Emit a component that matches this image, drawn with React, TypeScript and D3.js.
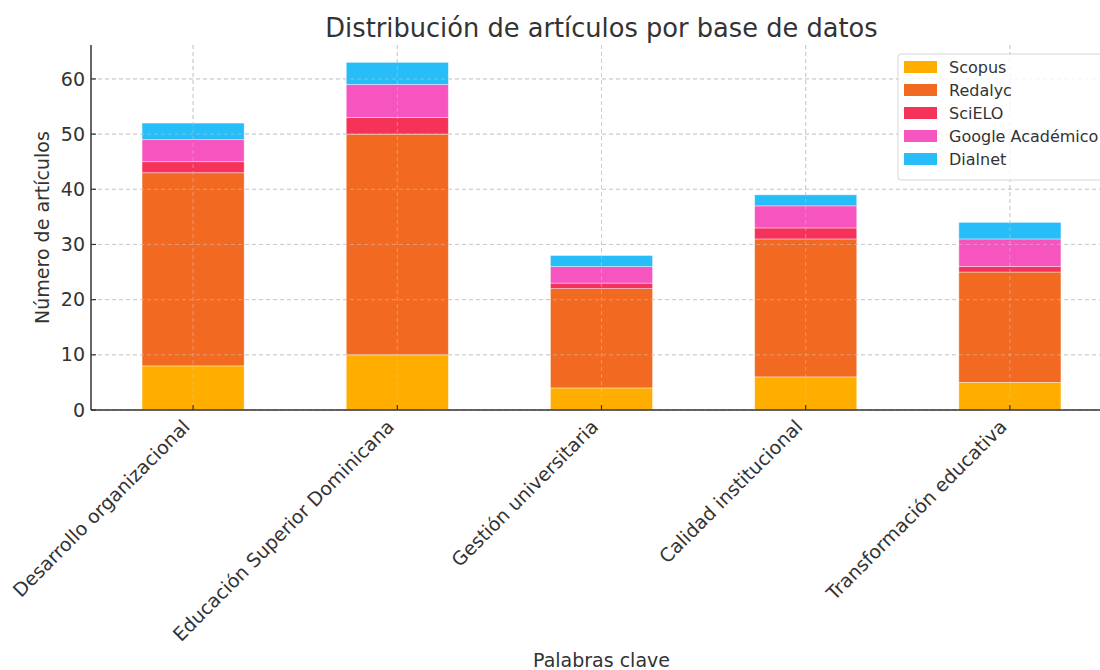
import React from "react";
import * as d3 from "d3";

const categories = [
  "Desarrollo organizacional",
  "Educación Superior Dominicana",
  "Gestión universitaria",
  "Calidad institucional",
  "Transformación educativa",
];
const seriesNames = ["Scopus", "Redalyc", "SciELO", "Google Académico", "Dialnet"];
const scopus = [8, 10, 4, 6, 5];
const redalyc = [35, 40, 18, 25, 20];
const scielo = [2, 3, 1, 2, 1];
const google = [4, 6, 3, 4, 5];
const dialnet = [3, 4, 2, 2, 3];
const colors = ["#ffae00", "#f26a22", "#f5325a", "#f655bf", "#27bdf8"];
const yTicks = [0, 10, 20, 30, 40, 50, 60];

const W = 1100;
const H = 670;
const M = { left: 91, right: 1112, top: 45, bottom: 410 };
const TXT = "#333333";
const FONT = "DejaVu Sans, sans-serif";

export default function App() {
  const seriesValues = [scopus, redalyc, scielo, google, dialnet];
  const rows = categories.map((c, i) => {
    const r: any = { cat: c };
    seriesNames.forEach((s, j) => (r[s] = seriesValues[j][i]));
    return r;
  });
  const stacked = d3.stack<any>().keys(seriesNames)(rows);
  const maxTotal = d3.max(rows, (r: any) => d3.sum(seriesNames, (s) => r[s])) as number;

  const x = d3.scaleLinear().domain([-0.5, categories.length - 0.5]).range([M.left, M.right]);
  const y = d3.scaleLinear().domain([0, maxTotal * 1.05]).range([M.bottom, M.top]);
  const bw = (x(1) - x(0)) * 0.5;

  return (
    <svg width={W} height={H} style={{ position: "absolute", left: 0, top: 0 }} fontFamily={FONT}>
      <rect x={0} y={0} width={W} height={H} fill="#ffffff" />
      {/* grid */}
      {yTicks.map((t) => (
        <line key={"gy" + t} x1={M.left} x2={M.right} y1={y(t)} y2={y(t)} stroke="#cccccc" strokeWidth={1} strokeDasharray="4,3" />
      ))}
      {categories.map((c, i) => (
        <line key={"gx" + i} x1={x(i)} x2={x(i)} y1={M.top} y2={M.bottom} stroke="#cccccc" strokeWidth={1} strokeDasharray="4,3" />
      ))}
      {/* bars */}
      {stacked.map((layer, j) => (
        <g key={"s" + j} fill={colors[j]}>
          {layer.map((d, i) => (
            <rect key={i} x={x(i) - bw / 2} width={bw} y={y(d[1])} height={y(d[0]) - y(d[1])} stroke="#ffffff" strokeOpacity={0.5} strokeWidth={0.8} />
          ))}
        </g>
      ))}
      {/* grid faintly over bars */}
      {yTicks.map((t) => (
        <line key={"gy2" + t} x1={M.left} x2={M.right} y1={y(t)} y2={y(t)} stroke="#cccccc" strokeOpacity={0.5} strokeWidth={1} strokeDasharray="4,3" />
      ))}
      {categories.map((c, i) => (
        <line key={"gx2" + i} x1={x(i)} x2={x(i)} y1={M.top} y2={M.bottom} stroke="#cccccc" strokeOpacity={0.5} strokeWidth={1} strokeDasharray="4,3" />
      ))}
      {/* spines */}
      <line x1={M.left} x2={M.left} y1={M.top} y2={M.bottom} stroke={TXT} strokeWidth={1.5} />
      <line x1={M.left} x2={M.right} y1={M.bottom} y2={M.bottom} stroke={TXT} strokeWidth={1.5} />
      {/* y ticks (inward) */}
      {yTicks.map((t) => (
        <g key={"yt" + t}>
          <line x1={M.left} x2={M.left + 5} y1={y(t)} y2={y(t)} stroke={TXT} strokeWidth={1.2} />
          <text x={M.left - 6} y={y(t)} dy="0.35em" textAnchor="end" fontSize={19} fill={TXT}>
            {t}
          </text>
        </g>
      ))}
      {/* x ticks (inward) */}
      {categories.map((c, i) => (
        <g key={"xt" + i}>
          <line x1={x(i)} x2={x(i)} y1={M.bottom} y2={M.bottom - 5} stroke={TXT} strokeWidth={1.2} />
          <text
            transform={`translate(${x(i) - 2},${M.bottom + 18}) rotate(-45)`}
            textAnchor="end"
            fontSize={19}
            fill={TXT}
          >
            {c}
          </text>
        </g>
      ))}
      {/* axis labels */}
      <text transform={`translate(49,${(M.top + M.bottom) / 2}) rotate(-90)`} textAnchor="middle" fontSize={19} fill={TXT}>
        Número de artículos
      </text>
      <text x={(M.left + M.right) / 2} y={667} textAnchor="middle" fontSize={19} fill={TXT}>
        Palabras clave
      </text>
      {/* title */}
      <text x={(M.left + M.right) / 2} y={37} textAnchor="middle" fontSize={25.7} fill={TXT}>
        Distribución de artículos por base de datos
      </text>
      {/* legend */}
      <g transform="translate(898,54)">
        <rect x={0} y={0} width={215} height={126} rx={3} fill="#ffffff" fillOpacity={0.8} stroke="#d6d6d6" strokeWidth={1} />
        {seriesNames.map((s, j) => (
          <g key={"l" + j} transform={`translate(0,${13 + j * 23})`}>
            <rect x={6} y={-6} width={33} height={12} fill={colors[j]} />
            <text x={51} y={0} dy="0.35em" fontSize={16} fill={TXT}>
              {s}
            </text>
          </g>
        ))}
      </g>
    </svg>
  );
}
